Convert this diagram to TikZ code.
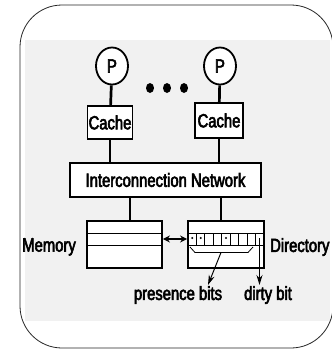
\documentclass[tikz,border=0pt]{standalone}
\usepackage{fontspec}
\setmainfont[FakeStretch=0.78,FakeBold=3]{Liberation Sans}
\usetikzlibrary{arrows.meta,shapes.geometric}
\begin{document}
\begin{tikzpicture}[x=1pt,y=-1pt,
  box/.style={draw=black, line width=1.8pt, fill=white, inner sep=0pt},
  proc/.style={draw=black, line width=1.8pt, fill=white, ellipse, inner sep=0pt,
    minimum width=32pt, minimum height=37pt, font=\fontsize{19}{19}\selectfont},
  bigdot/.style={fill=black, ellipse, inner sep=0pt, minimum width=8pt, minimum height=10pt},
  link/.style={line width=2.7pt},
  lbl/.style={font=\fontsize{19}{19}\selectfont, inner sep=0pt},
  thin/.style={line width=0.8pt},
  bit/.style={fill=black, circle, inner sep=0pt, minimum size=2.2pt},
  pointer/.style={line width=1pt, -{Stealth[length=10pt,width=6pt]}},
]
\useasboundingbox (0,0) rectangle (332,349);
\fill[white] (0,0) rectangle (332,349);
% shaded panel and rounded frame
\fill[gray!11] (25,40) rectangle (330,321);
\draw[line width=0.8pt, black!85, rounded corners=42pt] (20,5) rectangle (333,348);

% processors
\node[proc] (p1) at (112,66) {P};
\node[proc] (p2) at (220,66) {P};
\node[bigdot] (d1) at (150,88) {};
\node[bigdot] (d2) at (167,88) {};
\node[bigdot] (d3) at (184,88) {};

% caches
\node[box, minimum width=45pt, minimum height=33pt, lbl] (c1) at (110,122.5) {Cache};
\node[box, minimum width=48pt, minimum height=35pt, lbl] (c2) at (219,120.5) {Cache};

% network
\node[box, minimum width=191pt, minimum height=34pt, lbl] (net) at (165.5,180) {Interconnection Network};

% memory and directory
\node[box, minimum width=75pt, minimum height=47pt] (mem) at (124.5,244.5) {};
\node[box, minimum width=76pt, minimum height=47pt] (dir) at (226,244.5) {};
\node[lbl, anchor=east] (memlbl) at (76,247) {Memory};
\node[lbl, anchor=west] (dirlbl) at (270,247) {Directory};
\node[lbl] (pblbl) at (178,295) {presence bits};
\node[lbl] (dblbl) at (268,295) {dirty bit};

% links
\draw[link] (p1) -- (c1);
\draw[link] (p2) -- (c2);
\draw[link] (c1.south) -- (c1.south |- net.north);
\draw[link] (c2.south) -- (c2.south |- net.north);
\coordinate (mtap) at (130,0);
\coordinate (dtap) at (221,0);
\draw[link] (net.south -| mtap) -- (mem.north -| mtap);
\draw[link] (net.south -| dtap) -- (dir.north -| dtap);

% memory rows
\draw[line width=1pt] (mem.west |- 0,233) -- (mem.east |- 0,233);
\draw[line width=1pt] (mem.west |- 0,245) -- (mem.east |- 0,245);

% directory entry: 8 presence bits + dirty bit
\draw[thin] (dir.west |- 0,233) -- (dir.east |- 0,233);
\draw[thin] (dir.west |- 0,245) -- (dir.east |- 0,245);
\foreach \k in {1,...,8} {
  \draw[thin] (188+8.44*\k,233) -- (188+8.44*\k,245);
}
\foreach \k in {1,2,5} {
  \node[bit] at (188+8.44*\k-4.22,238) {};
}

% memory <-> directory
\draw[line width=2pt, {Stealth[length=7pt,width=7pt]}-{Stealth[length=7pt,width=7pt]}]
  (mem.east |- 0,239) -- (dir.west |- 0,239);

% presence-bit brace and pointers
\draw[thin] (190,247) -- (195,252.5) -- (248,252.5) -- (253,247);
\coordinate (brk) at (221,252.5);
\draw[pointer] (brk) -- (208,285);
\draw[pointer] (259.5,238) -- (259.5,285);
\end{tikzpicture}
\end{document}
